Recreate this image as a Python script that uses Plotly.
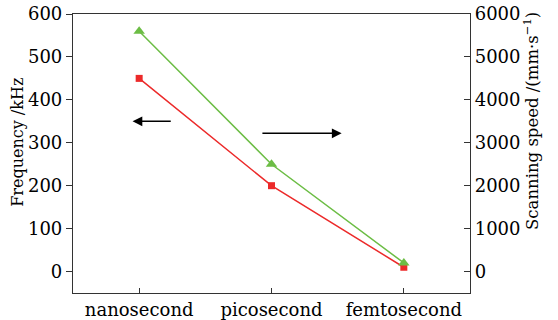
import plotly.graph_objects as go

categories = ["nanosecond", "picosecond", "femtosecond"]
frequency_khz = [450, 200, 10]
scanning_speed = [5600, 2500, 200]
left_ticks = [0, 100, 200, 300, 400, 500, 600]
right_ticks = [0, 1000, 2000, 3000, 4000, 5000, 6000]

xpos = list(range(len(categories)))
FONT = "DejaVu Serif"

fig = go.Figure()
fig.add_trace(go.Scatter(
    x=xpos, y=frequency_khz, mode="lines+markers",
    line=dict(color="#ec2a2a", width=1.5),
    marker=dict(symbol="square", size=7, color="#ec2a2a"),
    showlegend=False))
fig.add_trace(go.Scatter(
    x=xpos, y=scanning_speed, mode="lines+markers", yaxis="y2",
    line=dict(color="#6cbd45", width=1.5),
    marker=dict(symbol="triangle-up", size=10, color="#6cbd45"),
    showlegend=False))

# direction arrows
fig.add_annotation(x=-0.05, y=350, ax=0.25, ay=350, xref="x", yref="y",
                   axref="x", ayref="y", showarrow=True, arrowhead=2,
                   arrowsize=1.3, arrowwidth=1.5, arrowcolor="black", text="",
                   font=dict(size=10))
fig.add_annotation(x=1.53, y=322, ax=0.92, ay=322, xref="x", yref="y",
                   axref="x", ayref="y", showarrow=True, arrowhead=2,
                   arrowsize=1.3, arrowwidth=1.5, arrowcolor="black", text="",
                   font=dict(size=10))

# axis titles
fig.add_annotation(text="Frequency /kHz", xref="paper", yref="paper",
                   x=-0.14, y=0.54, textangle=-90, showarrow=False,
                   xanchor="center", yanchor="middle", font=dict(size=16))
fig.add_annotation(text="Scanning speed /(mm·s<sup>−1</sup>)", xref="paper",
                   yref="paper", x=1.155, y=0.615, textangle=-90,
                   showarrow=False, xanchor="center", yanchor="middle",
                   font=dict(size=16.5))

axis_line = dict(showline=True, linecolor="#333333", linewidth=1.2,
                 showgrid=False, zeroline=False, automargin=False,
                 ticklabeloverflow="allow")

fig.update_layout(
    width=558, height=320,
    margin=dict(l=73, r=88, t=14, b=27),
    paper_bgcolor="white", plot_bgcolor="white",
    font=dict(family=FONT, size=17, color="black"),
    xaxis=dict(**axis_line, range=[-0.5, 2.5], tickvals=xpos,
               ticktext=categories, ticks="inside", ticklen=5,
               tickcolor="#333333", mirror=True,
               tickfont=dict(size=18)),
    yaxis=dict(**axis_line, range=[-50, 600], tickvals=left_ticks,
               ticks="outside", ticklen=6, tickcolor="#333333",
               tickfont=dict(size=18)),
    yaxis2=dict(**axis_line, range=[-500, 6000], tickvals=right_ticks,
                overlaying="y", side="right", ticks="inside", ticklen=6,
                tickcolor="#333333", tickfont=dict(size=18)),
)

fig.write_html("out.html", config={"displayModeBar": False},
               post_script="document.body.style.margin='0';")
